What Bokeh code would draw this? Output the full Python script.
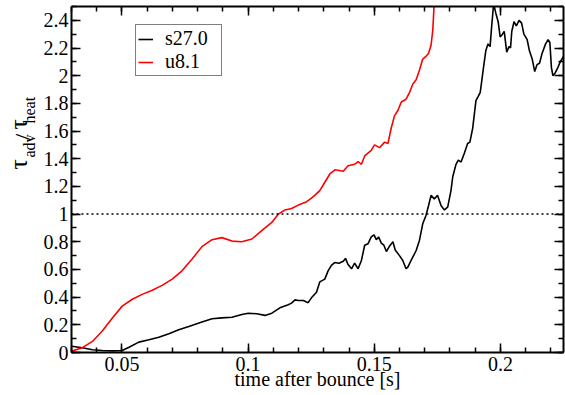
import numpy as np
from bokeh.plotting import figure
from bokeh.layouts import row
from bokeh.models import (Range1d, FixedTicker, LinearAxis, Legend, LegendItem, Span, Label,
                          CustomJSTickFormatter)
from bokeh.embed import file_html
from bokeh.resources import INLINE

# ---- data ----
s27_t = [0.0300, 0.0343, 0.0383, 0.0422, 0.0462, 0.0501, 0.0528, 0.0567, 0.0607, 0.0646,
         0.0686, 0.0725, 0.0765, 0.0817, 0.0857, 0.0896, 0.0936, 0.0975, 0.1001, 0.1034,
         0.1067, 0.1094, 0.1126, 0.1159, 0.1172, 0.1186, 0.1199, 0.1219, 0.1238, 0.1251,
         0.1271, 0.1284, 0.1304, 0.1317, 0.1330, 0.1343, 0.1360, 0.1377, 0.1386, 0.1396,
         0.1410, 0.1422, 0.1436, 0.1449, 0.1462, 0.1475, 0.1488, 0.1499, 0.1508, 0.1517,
         0.1528, 0.1538, 0.1548, 0.1561, 0.1574, 0.1583, 0.1600, 0.1613, 0.1626, 0.1633,
         0.1646, 0.1666, 0.1679, 0.1692, 0.1705, 0.1715, 0.1725, 0.1738, 0.1751, 0.1765,
         0.1778, 0.1791, 0.1804, 0.1811, 0.1824, 0.1833, 0.1844, 0.1857, 0.1870, 0.1879,
         0.1890, 0.1903, 0.1912, 0.1920, 0.1933, 0.1942, 0.1951, 0.1959, 0.1965, 0.1973,
         0.1982, 0.1991, 0.1999, 0.2008, 0.2015, 0.2025, 0.2034, 0.2040, 0.2045, 0.2054,
         0.2063, 0.2074, 0.2084, 0.2093, 0.2106, 0.2115, 0.2126, 0.2136, 0.2145, 0.2155,
         0.2165, 0.2179, 0.2189, 0.2196, 0.2202, 0.2208, 0.2217, 0.2228, 0.2237, 0.2250]
s27_v = [0.045, 0.034, 0.020, 0.014, 0.012, 0.014, 0.038, 0.075, 0.092, 0.110,
         0.135, 0.164, 0.188, 0.220, 0.244, 0.250, 0.255, 0.275, 0.284, 0.280,
         0.268, 0.284, 0.323, 0.345, 0.357, 0.380, 0.376, 0.376, 0.360, 0.395,
         0.436, 0.510, 0.530, 0.590, 0.630, 0.650, 0.645, 0.660, 0.680, 0.636,
         0.605, 0.645, 0.605, 0.665, 0.775, 0.785, 0.835, 0.850, 0.815, 0.835,
         0.790, 0.775, 0.730, 0.770, 0.800, 0.740, 0.700, 0.665, 0.605, 0.617,
         0.665, 0.737, 0.810, 0.930, 0.990, 1.060, 1.135, 1.110, 1.135, 1.060,
         1.030, 1.050, 1.170, 1.270, 1.360, 1.390, 1.376, 1.440, 1.510, 1.520,
         1.620, 1.820, 1.850, 1.880, 2.060, 2.180, 2.230, 2.210, 2.350, 2.520,
         2.450, 2.390, 2.280, 2.300, 2.320, 2.170, 2.210, 2.200, 2.320, 2.390,
         2.360, 2.400, 2.380, 2.300, 2.260, 2.180, 2.120, 2.030, 2.080, 2.090,
         2.160, 2.230, 2.260, 2.240, 2.060, 2.000, 2.020, 2.060, 2.100, 2.140]

u81_t = [0.0300, 0.0343, 0.0383, 0.0422, 0.0462, 0.0501, 0.0541, 0.0580, 0.0620, 0.0659,
         0.0699, 0.0738, 0.0778, 0.0817, 0.0857, 0.0896, 0.0936, 0.0975, 0.1015, 0.1054,
         0.1094, 0.1120, 0.1146, 0.1172, 0.1199, 0.1232, 0.1251, 0.1264, 0.1284, 0.1304,
         0.1324, 0.1344, 0.1377, 0.1396, 0.1422, 0.1436, 0.1449, 0.1462, 0.1488, 0.1501,
         0.1521, 0.1541, 0.1554, 0.1567, 0.1580, 0.1594, 0.1607, 0.1626, 0.1640, 0.1653,
         0.1666, 0.1679, 0.1692, 0.1705, 0.1715, 0.1725, 0.1732, 0.1736, 0.1740, 0.1744]
u81_v = [0.010, 0.035, 0.080, 0.155, 0.250, 0.335, 0.385, 0.420, 0.450, 0.485,
         0.530, 0.590, 0.675, 0.765, 0.815, 0.830, 0.805, 0.800, 0.820, 0.880,
         0.940, 1.000, 1.030, 1.040, 1.065, 1.090, 1.115, 1.135, 1.170, 1.230,
         1.290, 1.320, 1.310, 1.350, 1.360, 1.380, 1.360, 1.420, 1.460, 1.500,
         1.480, 1.520, 1.510, 1.620, 1.710, 1.750, 1.810, 1.830, 1.880, 1.940,
         1.970, 2.040, 2.120, 2.140, 2.160, 2.220, 2.330, 2.470, 2.650, 2.900]

series_names = ["s27.0", "u8.1"]
series_colors = ["black", "#ff0000"]
ref_level = 1.0

x_ticks = [0.05, 0.1, 0.15, 0.2]
x_tick_labels = ["0.05", "0.1", "0.15", "0.2"]
y_ticks = [0.0, 0.2, 0.4, 0.6, 0.8, 1.0, 1.2, 1.4, 1.6, 1.8, 2.0, 2.2, 2.4]
y_tick_labels = ["0", "0.2", "0.4", "0.6", "0.8", "1", "1.2", "1.4", "1.6", "1.8", "2", "2.2", "2.4"]
x_minor = [round(v, 3) for v in np.arange(0.03, 0.2251, 0.01)]
y_minor = [round(v, 2) for v in np.arange(0.0, 2.51, 0.1)]

x_label = "time after bounce [s]"
# y label pieces: (text, is_subscript)
y_label_parts = [("τ", False), ("adv", True), ("/", False), ("τ", False), ("heat", True)]

FONT = "Liberation Serif"

x_start, x_end = 0.03, 0.225
y_start, y_end = 0.0, 2.5

LABEL_W = 40

p = figure(width=565 - LABEL_W, height=395, output_backend="svg", toolbar_location=None,
           x_range=Range1d(x_start, x_end), y_range=Range1d(y_start, y_end),
           min_border_left=69 - LABEL_W, min_border_right=2, min_border_top=6, min_border_bottom=43,
           x_axis_location=None, y_axis_location=None)
p.xgrid.visible = False
p.ygrid.visible = False
p.outline_line_color = None
p.background_fill_color = "white"
p.border_fill_color = "white"

xt = FixedTicker(ticks=x_ticks, minor_ticks=x_minor)
yt = FixedTicker(ticks=y_ticks, minor_ticks=y_minor)
blank = CustomJSTickFormatter(code="return ''")


def style_axis(ax, labels):
    ax.axis_line_width = 2
    ax.axis_line_color = "black"
    ax.major_tick_in = 9
    ax.major_tick_out = 0
    ax.minor_tick_in = 5
    ax.minor_tick_out = 0
    ax.major_tick_line_width = 1.5
    ax.minor_tick_line_width = 1.5
    if labels:
        ax.major_label_text_font = FONT
        ax.major_label_text_font_size = "20px"
        ax.major_label_text_color = "black"
        ax.major_label_standoff = 4
    else:
        ax.major_label_standoff = 0


bx = LinearAxis(ticker=xt, major_label_overrides={t: l for t, l in zip(x_ticks, x_tick_labels)})
style_axis(bx, True)
bx.axis_label = x_label
bx.axis_label_text_font = FONT
bx.axis_label_text_font_size = "20px"
bx.axis_label_text_font_style = "normal"
bx.axis_label_text_color = "black"
bx.axis_label_standoff = -6
p.add_layout(bx, "below")

ly = LinearAxis(ticker=yt, major_label_overrides={t: l for t, l in zip(y_ticks, y_tick_labels)})
style_axis(ly, True)
ly.major_label_standoff = 3
p.add_layout(ly, "left")

tx = LinearAxis(ticker=xt, formatter=blank)
style_axis(tx, False)
p.add_layout(tx, "above")

ry = LinearAxis(ticker=yt, formatter=blank)
style_axis(ry, False)
p.add_layout(ry, "right")

p.add_layout(Span(location=ref_level, dimension="width", line_color="black",
                  line_dash="2 3", line_width=1.5))

r1 = p.line(s27_t, s27_v, line_color=series_colors[0], line_width=1.6)
r2 = p.line(u81_t, u81_v, line_color=series_colors[1], line_width=1.6)

legend = Legend(items=[LegendItem(label=series_names[0], renderers=[r1]),
                       LegendItem(label=series_names[1], renderers=[r2])],
                location=(64, 276), orientation="vertical",
                border_line_color="black", border_line_width=1.5,
                background_fill_color="white", background_fill_alpha=1,
                padding=2, spacing=-5, margin=0, glyph_width=15, glyph_height=18,
                label_height=18, label_width=54, label_standoff=12,
                label_text_font=FONT, label_text_font_size="20px", label_text_color="black")
p.add_layout(legend)

# ---- narrow strip on the left that holds the rotated y-axis label ----
lab = figure(width=LABEL_W, height=395, output_backend="svg", toolbar_location=None,
             x_range=Range1d(0, 1), y_range=Range1d(0, 1),
             min_border_left=0, min_border_right=0, min_border_top=0, min_border_bottom=0,
             x_axis_location=None, y_axis_location=None)
lab.xgrid.visible = False
lab.ygrid.visible = False
lab.outline_line_color = None
lab.background_fill_color = "white"
lab.border_fill_color = "white"

# placement of each piece (pixels inside the strip: text-bottom x, start y from bottom, font size)
placements = [(32, 183, "26px"), (37, 195, "16px"), (35, 212, "24px"), (32, 223, "26px"), (37, 229, "16px")]
for (txt, _sub), (bx_, by_, fs) in zip(y_label_parts, placements):
    lab.add_layout(Label(x=bx_, y=by_, x_units="screen", y_units="screen", text=txt,
                         angle=np.pi / 2, text_font=FONT, text_font_size=fs,
                         text_align="left", text_baseline="bottom", text_color="black"))

layout = row(lab, p, spacing=0)
open("out.html", "w").write(file_html(layout, INLINE))
